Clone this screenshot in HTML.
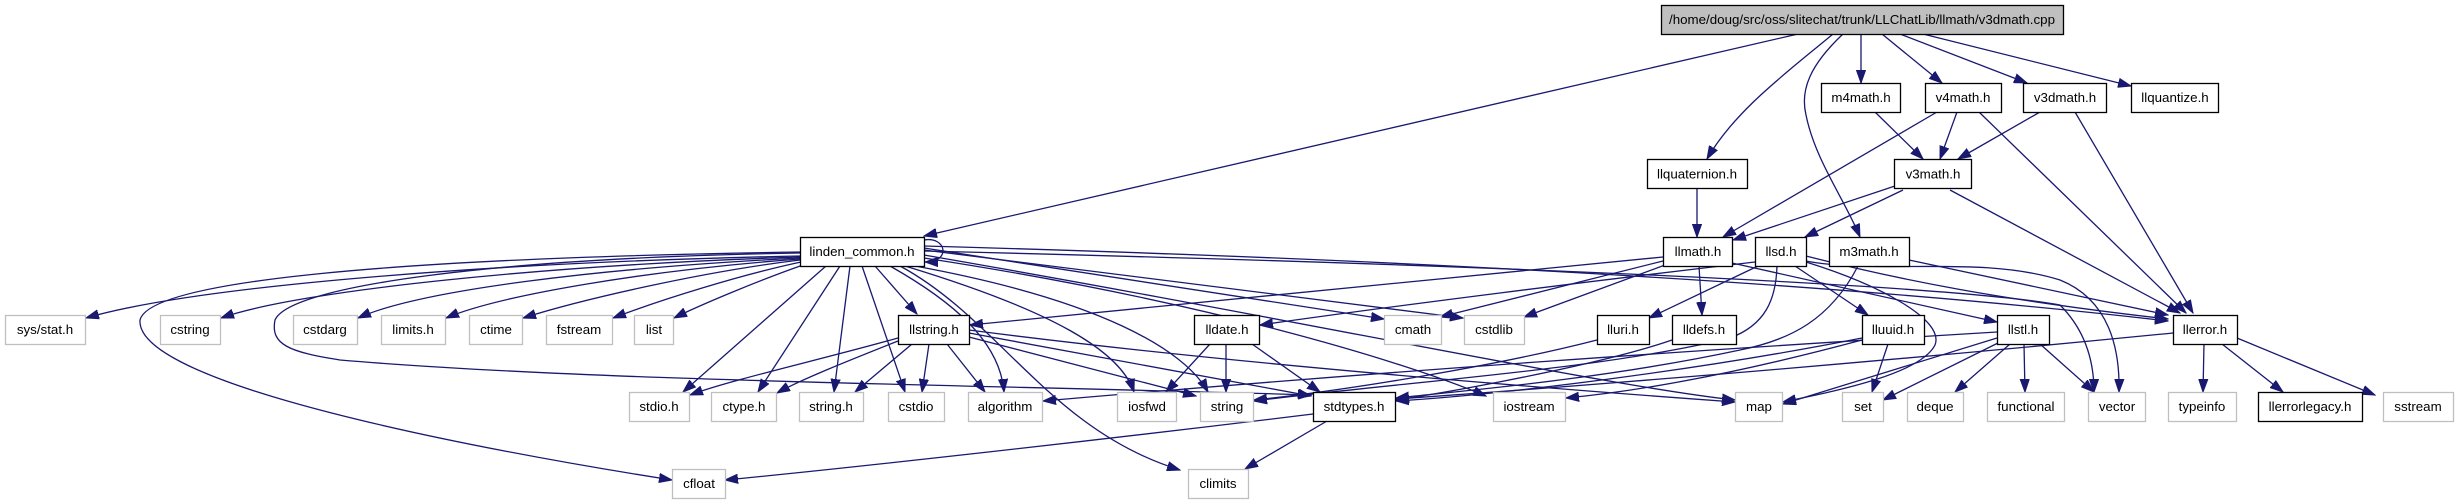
<!DOCTYPE html>
<html><head><meta charset="utf-8"><style>
html,body{margin:0;padding:0;background:#fff;}
svg{display:block;}
text{font-family:"Liberation Sans",Arial,sans-serif;font-size:13.33px;fill:#000;text-anchor:middle;}
.e{fill:none;stroke:#191970;stroke-width:1.3;marker-end:url(#a);}
.d{fill:#fff;stroke:#000;stroke-width:1.3;}
.x{fill:#fff;stroke:#bfbfbf;stroke-width:1.3;}
</style></head><body>
<svg width="2456" height="504" viewBox="0 0 2456 504" xmlns="http://www.w3.org/2000/svg">
<defs><marker id="a" markerUnits="userSpaceOnUse" markerWidth="14" markerHeight="10" refX="13" refY="5" orient="auto"><path d="M0,0.4 L13,5 L0,9.6 z" fill="#191970" stroke="#191970" stroke-width="1"/></marker></defs>
<rect width="2456" height="504" fill="#fff"/>
<g>
<path class="e" d="M1798,34 L924,236"/>
<path class="e" d="M1833,34 C1790,70 1735,110 1707,159"/>
<path class="e" d="M1843,34 C1810,65 1800,90 1806,115 C1815,160 1845,200 1860,237"/>
<path class="e" d="M1861,34 L1861,83"/>
<path class="e" d="M1882,34 L1942,83"/>
<path class="e" d="M1900,34 L2027,83"/>
<path class="e" d="M1923,34 L2131,86"/>
<path class="e" d="M1875,112 L1923,159"/>
<path class="e" d="M1957,112 L1940,159"/>
<path class="e" d="M2040,112 L1958,159"/>
<path class="e" d="M1937,112 L1723,237"/>
<path class="e" d="M1895,186 L1733,240"/>
<path class="e" d="M1903,190 L1805,237"/>
<path class="e" d="M1950,190 L2180,313"/>
<path class="e" d="M1979,112 L2186,313"/>
<path class="e" d="M2075,112 L2193,313"/>
<path class="e" d="M1697,189 L1697,237"/>
<path class="e" d="M1663,257 L970,325"/>
<path class="e" d="M1663,261 L1440,317"/>
<path class="e" d="M1665,265 L1524,317"/>
<path class="e" d="M1699,266 L1702,315"/>
<path class="e" d="M1732,263 L1997,322"/>
<path class="e" d="M1755,262 C1600,280 1400,305 1260,325"/>
<path class="e" d="M1758,266 L1649,318"/>
<path class="e" d="M1795,266 L1868,315"/>
<path class="e" d="M1806,262 C1880,285 1945,320 1935,345 C1920,375 1830,392 1783,402"/>
<path class="e" d="M1806,261 C1880,275 1980,255 2060,280 C2110,300 2120,350 2119,392"/>
<path class="e" d="M1777,266 C1776,300 1765,325 1730,338 C1600,370 1400,382 1254,401"/>
<path class="e" d="M1806,256 C1900,280 2000,300 2168,319"/>
<path class="e" d="M1909,260 L2168,315"/>
<path class="e" d="M1858,266 C1830,320 1790,340 1740,350 C1600,380 1450,392 1396,398"/>
<path class="e" d="M1597,340 C1500,365 1350,390 1254,400"/>
<path class="e" d="M1672,340 C1600,365 1450,392 1396,400"/>
<path class="e" d="M1888,344 L1872,392"/>
<path class="e" d="M1862,340 C1750,370 1650,390 1566,398"/>
<path class="e" d="M1862,338 C1700,370 1500,395 1396,401"/>
<path class="e" d="M1997,338 L1783,404"/>
<path class="e" d="M2000,342 L1883,400"/>
<path class="e" d="M2010,344 L1955,392"/>
<path class="e" d="M2024,344 L2025,392"/>
<path class="e" d="M2040,344 L2094,392"/>
<path class="e" d="M1997,332 C1700,350 1400,370 1043,401"/>
<path class="e" d="M2204,344 L2203,392"/>
<path class="e" d="M2222,344 L2283,392"/>
<path class="e" d="M2237,338 L2375,395"/>
<path class="e" d="M2173,333 C1900,360 1600,385 1396,399"/>
<path class="e" d="M1210,344 L1166,392"/>
<path class="e" d="M1226,344 L1226,392"/>
<path class="e" d="M1252,344 L1320,392"/>
<path class="e" d="M912,344 L855,392"/>
<path class="e" d="M929,344 L922,392"/>
<path class="e" d="M947,344 L985,392"/>
<path class="e" d="M898,338 C820,360 730,380 690,395"/>
<path class="e" d="M898,341 C850,360 800,380 777,393"/>
<path class="e" d="M969,337 L1196,396"/>
<path class="e" d="M969,333 L1311,396"/>
<path class="e" d="M969,330 C1200,360 1500,385 1735,402"/>
<path class="e" d="M1313,414 C1100,440 850,468 725,480"/>
<path class="e" d="M1327,421 L1245,469"/>
<path class="e" d="M924,240 C946,236 952,262 925,262"/>
<path class="e" d="M800,256 C500,262 200,285 86,318"/>
<path class="e" d="M800,257 C550,265 300,290 221,318"/>
<path class="e" d="M800,258 C600,268 420,290 358,318"/>
<path class="e" d="M800,259 C650,270 500,295 446,318"/>
<path class="e" d="M800,260 C700,272 580,300 523,318"/>
<path class="e" d="M801,262 C740,275 660,300 613,318"/>
<path class="e" d="M803,265 C760,280 700,305 674,318"/>
<path class="e" d="M800,252 C400,258 150,280 140,320 C135,385 480,450 672,480"/>
<path class="e" d="M800,253 C500,258 290,285 275,320 C270,345 290,352 340,360 C600,382 1000,385 1311,395"/>
<path class="e" d="M826,266 L683,392"/>
<path class="e" d="M840,266 L758,392"/>
<path class="e" d="M850,266 L834,392"/>
<path class="e" d="M862,266 L905,392"/>
<path class="e" d="M875,266 L917,314"/>
<path class="e" d="M890,266 C950,300 1000,340 1004,392"/>
<path class="e" d="M905,266 C1050,310 1120,350 1134,392"/>
<path class="e" d="M915,266 C1100,300 1185,350 1208,392"/>
<path class="e" d="M900,266 C1000,320 1050,430 1180,470"/>
<path class="e" d="M924,248 L1384,319"/>
<path class="e" d="M924,250 L1463,318"/>
<path class="e" d="M924,258 C1200,300 1400,360 1486,396"/>
<path class="e" d="M924,255 C1300,320 1600,385 1735,400"/>
<path class="e" d="M924,246 C1500,262 1900,290 2168,321"/>
<path class="e" d="M924,251 C1500,265 1950,285 2060,305 C2085,330 2094,360 2094,392"/>
</g>
<g>
<rect x="1661.5" y="5.5" width="402" height="29" fill="#bfbfbf" stroke="#000" stroke-width="1.3"/>
<text x="1862" y="24">/home/doug/src/oss/slitechat/trunk/LLChatLib/llmath/v3dmath.cpp</text>

<rect class="d" x="1821.5" y="83.5" width="79" height="29"/><text x="1861" y="102">m4math.h</text>
<rect class="d" x="1925.5" y="83.5" width="76" height="29"/><text x="1963" y="102">v4math.h</text>
<rect class="d" x="2023.5" y="83.5" width="83" height="29"/><text x="2065" y="102">v3dmath.h</text>
<rect class="d" x="2131.5" y="83.5" width="87" height="29"/><text x="2175" y="102">llquantize.h</text>

<rect class="d" x="1647.5" y="159.5" width="100" height="29"/><text x="1697" y="178.5">llquaternion.h</text>
<rect class="d" x="1894.5" y="159.5" width="77" height="29"/><text x="1933" y="178.5">v3math.h</text>

<rect class="d" x="800.5" y="237.5" width="124" height="29"/><text x="862" y="256">linden_common.h</text>
<rect class="d" x="1663.5" y="237.5" width="69" height="29"/><text x="1698" y="256">llmath.h</text>
<rect class="d" x="1755.5" y="237.5" width="51" height="29"/><text x="1781" y="256">llsd.h</text>
<rect class="d" x="1829.5" y="237.5" width="80" height="29"/><text x="1869" y="256">m3math.h</text>

<rect class="x" x="5.5" y="315.5" width="80" height="29"/><text x="45" y="334">sys/stat.h</text>
<rect class="x" x="160.5" y="315.5" width="60" height="29"/><text x="190" y="334">cstring</text>
<rect class="x" x="293.5" y="315.5" width="64" height="29"/><text x="325" y="334">cstdarg</text>
<rect class="x" x="381.5" y="315.5" width="64" height="29"/><text x="413" y="334">limits.h</text>
<rect class="x" x="469.5" y="315.5" width="53" height="29"/><text x="496" y="334">ctime</text>
<rect class="x" x="546.5" y="315.5" width="66" height="29"/><text x="579" y="334">fstream</text>
<rect class="x" x="634.5" y="315.5" width="39" height="29"/><text x="654" y="334">list</text>
<rect class="d" x="898.5" y="315.5" width="71" height="29"/><text x="934" y="334">llstring.h</text>
<rect class="d" x="1194.5" y="315.5" width="65" height="29"/><text x="1227" y="334">lldate.h</text>
<rect class="x" x="1384.5" y="315.5" width="57" height="29"/><text x="1413" y="334">cmath</text>
<rect class="x" x="1464.5" y="315.5" width="60" height="29"/><text x="1494" y="334">cstdlib</text>
<rect class="d" x="1597.5" y="315.5" width="52" height="29"/><text x="1623" y="334">lluri.h</text>
<rect class="d" x="1672.5" y="315.5" width="64" height="29"/><text x="1704" y="334">lldefs.h</text>
<rect class="d" x="1862.5" y="315.5" width="62" height="29"/><text x="1893" y="334">lluuid.h</text>
<rect class="d" x="1997.5" y="315.5" width="52" height="29"/><text x="2023" y="334">llstl.h</text>
<rect class="d" x="2173.5" y="315.5" width="64" height="29"/><text x="2205" y="334">llerror.h</text>

<rect class="x" x="629.5" y="392.5" width="60" height="29"/><text x="659" y="411">stdio.h</text>
<rect class="x" x="711.5" y="392.5" width="65" height="29"/><text x="744" y="411">ctype.h</text>
<rect class="x" x="799.5" y="392.5" width="64" height="29"/><text x="831" y="411">string.h</text>
<rect class="x" x="888.5" y="392.5" width="56" height="29"/><text x="916" y="411">cstdio</text>
<rect class="x" x="968.5" y="392.5" width="74" height="29"/><text x="1005" y="411">algorithm</text>
<rect class="x" x="1117.5" y="392.5" width="59" height="29"/><text x="1147" y="411">iosfwd</text>
<rect class="x" x="1200.5" y="392.5" width="53" height="29"/><text x="1227" y="411">string</text>
<rect class="d" x="1313.5" y="392.5" width="82" height="29"/><text x="1354" y="411">stdtypes.h</text>
<rect class="x" x="1493.5" y="392.5" width="72" height="29"/><text x="1529" y="411">iostream</text>
<rect class="x" x="1735.5" y="392.5" width="47" height="29"/><text x="1759" y="411">map</text>
<rect class="x" x="1842.5" y="392.5" width="41" height="29"/><text x="1863" y="411">set</text>
<rect class="x" x="1907.5" y="392.5" width="56" height="29"/><text x="1935" y="411">deque</text>
<rect class="x" x="1987.5" y="392.5" width="77" height="29"/><text x="2026" y="411">functional</text>
<rect class="x" x="2088.5" y="392.5" width="57" height="29"/><text x="2117" y="411">vector</text>
<rect class="x" x="2168.5" y="392.5" width="68" height="29"/><text x="2202" y="411">typeinfo</text>
<rect class="d" x="2258.5" y="392.5" width="104" height="29"/><text x="2310" y="411">llerrorlegacy.h</text>
<rect class="x" x="2383.5" y="392.5" width="70" height="29"/><text x="2418" y="411">sstream</text>

<rect class="x" x="672.5" y="469.5" width="53" height="29"/><text x="699" y="488">cfloat</text>
<rect class="x" x="1188.5" y="469.5" width="60" height="29"/><text x="1218" y="488">climits</text>
</g>
</svg>
</body></html>
